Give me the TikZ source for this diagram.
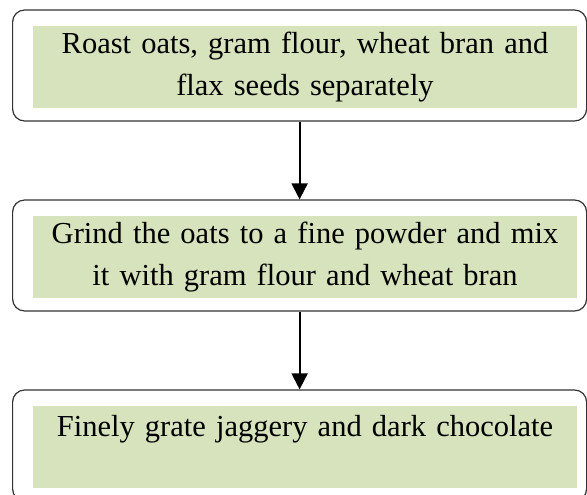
\documentclass[tikz,border=0pt]{standalone}
\usepackage{fontspec}
\setmainfont{Liberation Serif}
\usetikzlibrary{arrows.meta}
\definecolor{stepgreen}{HTML}{D6E3BC}
\begin{document}
\begin{tikzpicture}[x=1pt,y=-1pt,
  stepframe/.style={draw=black!80, line width=1.2pt, rounded corners=12pt, minimum width=574pt, minimum height=111pt, inner sep=0pt},
  stepbox/.style={fill=stepgreen, minimum width=544pt, minimum height=82pt, text width=530pt, align=center, inner sep=0pt, font=\fontsize{30.5}{42.5}\selectfont},
  flow/.style={line width=2pt, -{Triangle[width=16pt,length=16pt]}}]
\useasboundingbox (0,0) rectangle (587,495);
\clip (0,0) rectangle (587,495);
\node[stepframe] (roastframe) at (299.6,65.5) {};
\node[stepbox] (roast) at (305,67) {Roast oats, gram flour, wheat bran and\\flax seeds separately};
\node[stepframe] (grindframe) at (299.6,255.5) {};
\node[stepbox] (grind) at (305,257) {Grind the oats to a fine powder and mix\\it with gram flour and wheat bran};
\node[stepframe] (grateframe) at (299.6,445.5) {};
\node[stepbox] (grate) at (305,447) {Finely grate jaggery and dark chocolate\\\mbox{}};
\draw[flow] (roastframe.south) -- (grindframe.north);
\draw[flow] (grindframe.south) -- (grateframe.north);
\end{tikzpicture}
\end{document}
